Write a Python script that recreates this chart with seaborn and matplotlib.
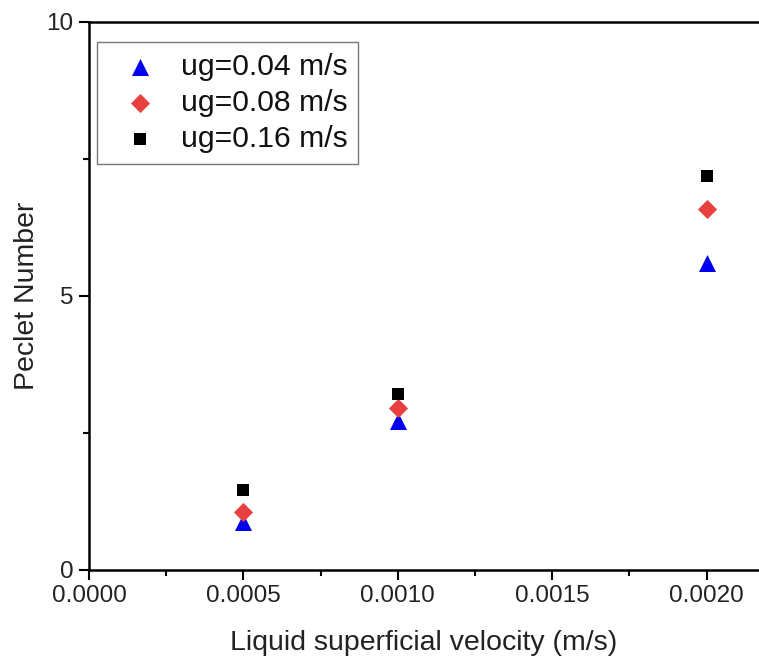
import matplotlib
matplotlib.use("Agg")
import matplotlib.pyplot as plt
import seaborn as sns
import pandas as pd
from matplotlib.ticker import MultipleLocator, FixedLocator

sns.set_style("ticks")
plt.rcParams['font.family'] = ['Liberation Sans', 'DejaVu Sans']

velocity = [0.0005, 0.0010, 0.0020]
series_labels = ["ug=0.04 m/s", "ug=0.08 m/s", "ug=0.16 m/s"]
pe_004 = [0.87, 2.72, 5.61]
pe_008 = [1.06, 2.96, 6.59]
pe_016 = [1.46, 3.21, 7.19]

rows = []
for lab, vals in zip(series_labels, [pe_004, pe_008, pe_016]):
    for v, p in zip(velocity, vals):
        rows.append({"v": v, "pe": p, "series": lab})
df = pd.DataFrame(rows)

fig = plt.figure(figsize=(7.59, 6.58), dpi=100)
ax = fig.add_axes([89/759, 88/658, 1 - 89/759, (570 - 22)/658])

palette = {series_labels[0]: "#0000ee", series_labels[1]: "#e8403e", series_labels[2]: "#000000"}
markers = {series_labels[0]: "^", series_labels[1]: "D", series_labels[2]: "s"}
sizes = {series_labels[0]: 150, series_labels[1]: 95, series_labels[2]: 80}
for lab in series_labels:
    sub = df[df.series == lab]
    sns.scatterplot(data=sub, x="v", y="pe", color=palette[lab], marker=markers[lab],
                    s=sizes[lab], linewidth=0, ax=ax, label=lab, zorder=3)

ax.set_xlim(0, 0.00217)
ax.set_ylim(0, 10)
ax.xaxis.set_major_locator(FixedLocator([0, 0.0005, 0.0010, 0.0015, 0.0020]))
ax.xaxis.set_minor_locator(MultipleLocator(0.00025))
ax.yaxis.set_major_locator(FixedLocator([0, 5, 10]))
ax.yaxis.set_minor_locator(MultipleLocator(2.5))
ax.set_xticklabels(["0.0000", "0.0005", "0.0010", "0.0015", "0.0020"])
ax.set_yticklabels(["0", "5", "10"])
ax.tick_params(axis="both", which="major", length=7, width=1.5, labelsize=17.5, direction="out",
               color="black", labelcolor="#222222", pad=4)
ax.tick_params(axis="both", which="minor", length=4, width=1.5, direction="out", color="black")
for side in ["left", "bottom", "top"]:
    ax.spines[side].set_linewidth(1.8)
    ax.spines[side].set_color("black")
ax.spines["top"].set_visible(True)
ax.spines["right"].set_visible(False)

ax.set_xlabel("Liquid superficial velocity (m/s)", fontsize=20.5, color="#222222", labelpad=16)
ax.set_ylabel("Peclet Number", fontsize=20.5, color="#222222", labelpad=5)

leg = ax.legend(loc="upper left", bbox_to_anchor=(0.012, 0.964), fontsize=21.7, frameon=True,
                fancybox=False, edgecolor="#555555", handletextpad=0.32, borderpad=0.36,
                labelspacing=0.27, handlelength=2.1, borderaxespad=0.0)
leg.get_frame().set_linewidth(1.0)
for t in leg.get_texts():
    t.set_color("#111111")

fig.savefig("out.png", dpi=100)
